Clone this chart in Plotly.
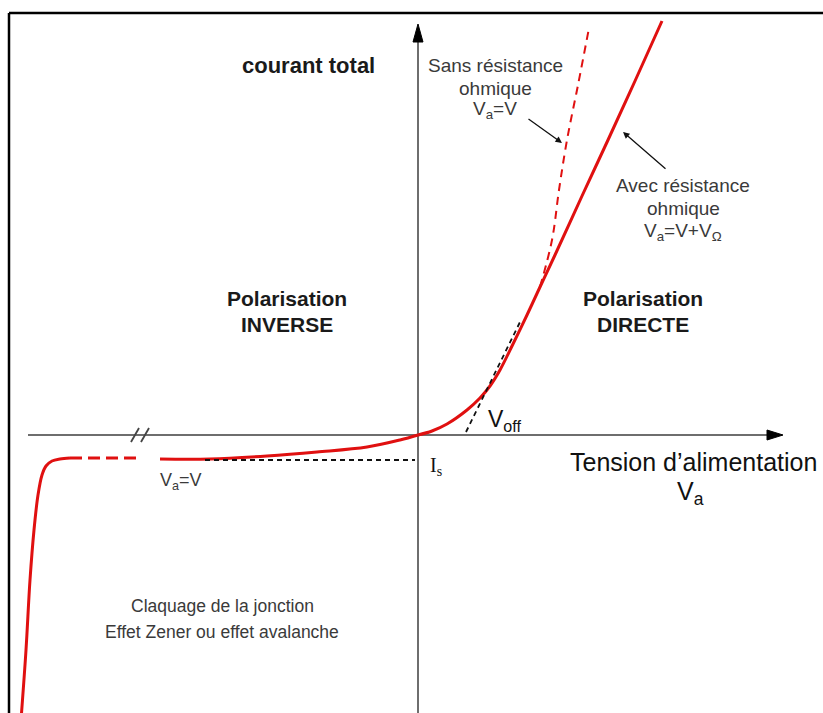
import plotly.graph_objects as go

# Diagram units: V = horizontal offset from origin, I = vertical offset (up positive)
fwd_v = [0, 14, 29, 49, 62, 72, 82, 95, 109, 122, 137, 164, 190, 217, 244]
fwd_i = [0, 4, 11, 25, 37, 49, 65, 91, 120, 148, 180, 239, 295, 354, 414]

ideal_v = [122, 134, 141, 149, 160, 171]
ideal_i = [148, 195, 245, 295, 350, 407]

rev_v = [0, -18, -51, -101, -151, -208, -258]
rev_i = [0, -5, -12, -17, -21, -24, -24]

rev_dash_v = [-348, -281]
rev_dash_i = [-23, -23]

brk_v = [-348, -358, -366, -372, -376, -380, -384, -388, -392, -397]
brk_i = [-23, -24, -26, -31, -40, -60, -95, -145, -215, -285]

is_v = [-213, -3]
is_i = [-25, -25]

tan_v = [48, 103]
tan_i = [3, 115]

RED = "#e01010"
FONT = "Liberation Sans, Arial, sans-serif"
GRAY_TXT = "#3a3a3a"

fig = go.Figure()

def line(x, y, color, width, dash="solid"):
    fig.add_trace(go.Scatter(x=x, y=y, mode="lines", hoverinfo="skip",
                             line=dict(color=color, width=width, dash=dash, shape="spline", smoothing=1.0)))

line(rev_v, rev_i, RED, 3)
line(rev_dash_v, rev_dash_i, RED, 3, "12px,6px")
line(brk_v, brk_i, RED, 3)
line(fwd_v, fwd_i, RED, 3)
line(ideal_v, ideal_i, RED, 2, "8px,6px")
line(is_v, is_i, "#111111", 1.8, "5px,4px")
line(tan_v, tan_i, "#111111", 1.8, "5px,4px")

shapes = []
# frame
shapes.append(dict(type="line", xref="paper", yref="paper", x0=9/823, x1=1.01, y0=1-13/713, y1=1-13/713,
                   line=dict(color="black", width=2.5)))
shapes.append(dict(type="line", xref="paper", yref="paper", x0=9/823, x1=9/823, y0=1-13/713, y1=-0.01,
                   line=dict(color="black", width=2.5)))
# axes
shapes.append(dict(type="line", x0=-390, x1=352, y0=0, y1=0, line=dict(color="#6e6e6e", width=2), layer="below"))
shapes.append(dict(type="line", x0=0, x1=0, y0=-290, y1=395, line=dict(color="#6e6e6e", width=2), layer="below"))
shapes.append(dict(type="path", path="M 349,-5 L 365,0 L 349,5 Z", fillcolor="black", line=dict(color="black", width=1)))
shapes.append(dict(type="path", path="M -5,393 L 0,411 L 5,393 Z", fillcolor="black", line=dict(color="black", width=1)))
# break marks
shapes.append(dict(type="line", x0=-287, x1=-279, y0=-7, y1=7, line=dict(color="#444444", width=1.8)))
shapes.append(dict(type="line", x0=-277, x1=-269, y0=-7, y1=7, line=dict(color="#444444", width=1.8)))

fig.update_layout(shapes=shapes)

def txt(x, y, s, size, color=GRAY_TXT, bold=False, family=FONT):
    if bold:
        s = "<b>" + s + "</b>"
    fig.add_annotation(x=x, y=y, text=s, showarrow=False, xanchor="center", yanchor="middle",
                       font=dict(family=family, size=size, color=color))

txt(-110, 370, "courant total", 22, "#1a1a1a", True)
txt(77, 370, "Sans résistance", 19)
txt(77, 347, "ohmique", 19)
txt(77, 325, "V<sub>a</sub>=V", 19)
txt(265, 250, "Avec résistance", 19)
txt(265, 227, "ohmique", 19)
txt(265, 203, "V<sub>a</sub>=V+V<sub>Ω</sub>", 19)
txt(-131, 137, "Polarisation", 21, "#1a1a1a", True)
txt(-131, 111, "INVERSE", 21, "#1a1a1a", True)
txt(225, 137, "Polarisation", 21, "#1a1a1a", True)
txt(225, 111, "DIRECTE", 21, "#1a1a1a", True)
txt(275, -27, "Tension d’alimentation", 25, "#111111")
txt(272, -58, "V<sub>a</sub>", 25, "#111111")
txt(86, 15, "V<sub>off</sub>", 23, "#111111")
txt(-237, -46, "V<sub>a</sub>=V", 18)
txt(18, -31, "I<sub>s</sub>", 20, "#111111", family="Liberation Serif, Times New Roman, serif")
txt(-196, -171, "Claquage de la jonction", 17.5)
txt(-196, -197, "Effet Zener ou effet avalanche", 17.5)

# pointer arrows
fig.add_annotation(x=144, y=292, ax=109, ay=317, xref="x", yref="y", axref="x", ayref="y",
                   showarrow=True, arrowhead=2, arrowsize=1, arrowwidth=1.3, arrowcolor="#111111", text="")
fig.add_annotation(x=205, y=303, ax=249, ay=265, xref="x", yref="y", axref="x", ayref="y",
                   showarrow=True, arrowhead=2, arrowsize=1, arrowwidth=1.3, arrowcolor="#111111", text="")

fig.update_layout(
    width=823, height=713,
    margin=dict(l=0, r=0, t=0, b=0),
    paper_bgcolor="white", plot_bgcolor="white",
    showlegend=False,
    xaxis=dict(range=[-418, 405], visible=False, fixedrange=True),
    yaxis=dict(range=[-278, 435], visible=False, fixedrange=True),
)

fig.write_html("out.html", config={"displayModeBar": False},
               post_script="document.body.style.margin='0';document.body.style.overflow='hidden';")
